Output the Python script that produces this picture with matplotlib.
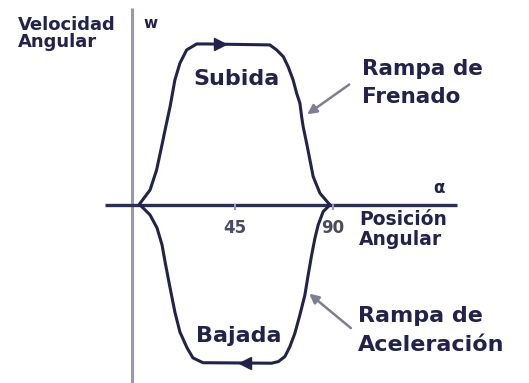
import matplotlib.pyplot as plt

# posición angular (grados) y velocidad angular (normalizada)
subida_x = [1.4, 6.0, 9.0, 11.3, 12.9, 15.2, 17.4, 19.7, 22.8, 27.4, 32.0, 61.0,
            64.1, 67.2, 69.4, 71.7, 73.3, 74.8, 75.6, 76.3, 77.9, 79.4, 80.9,
            84.0, 88.6]
subida_y = [0.01, 0.093, 0.217, 0.362, 0.466, 0.611, 0.776, 0.88, 0.963, 1.0, 1.0,
            0.994, 0.963, 0.921, 0.859, 0.776, 0.694, 0.632, 0.548, 0.486, 0.383,
            0.28, 0.176, 0.073, 0.0]

bajada_x = [1.4, 6.0, 9.2, 11.5, 12.9, 15.2, 17.4, 19.7, 23.0, 25.7, 30.3, 61.8,
            64.9, 67.9, 70.2, 72.5, 74.8, 77.1, 78.6, 80.2, 81.7, 83.2, 85.5, 88.6]
bajada_y = [0.0, -0.062, -0.143, -0.248, -0.354, -0.516, -0.665, -0.789, -0.888,
            -0.95, -0.98, -0.983, -0.973, -0.942, -0.88, -0.797, -0.683, -0.559,
            -0.435, -0.311, -0.207, -0.124, -0.041, 0.0]

ticks = [45, 90]
tick_labels = ["45", "90"]

navy = "#22224a"
gris = "#9a99aa"

fig = plt.figure(figsize=(5.29, 3.83), dpi=100)
ax = fig.add_axes([0, 0, 1, 1])
ax.set_xlim(-62.9, 180.0)
ax.set_ylim(-1.106, 1.273)
ax.axis("off")

# ejes
ax.plot([-2.3, -2.3], [-1.106, 1.224], color=gris, lw=2.2, solid_capstyle="butt")
ax.plot([-14.7, 146.9], [0, 0], color="#2e2e50", lw=2.4, solid_capstyle="butt")
for t in ticks:
    ax.plot([t, t], [0, -0.025], color=gris, lw=1.5)

# curvas
ax.plot(subida_x, subida_y, color=navy, lw=2.2, solid_joinstyle="round")
ax.plot(bajada_x, bajada_y, color=navy, lw=2.2, solid_joinstyle="round")
ax.plot([38.0], [1.0], marker=">", color=navy, markersize=9)
ax.plot([49.6], [-0.983], marker="<", color=navy, markersize=9)

fuente = dict(color=navy, fontweight="bold", family="DejaVu Sans")

ax.text(-54.6, 1.087, "Velocidad", fontsize=13, **fuente)
ax.text(-54.6, 0.981, "Angular", fontsize=13, **fuente)
ax.text(2.75, 1.099, "w", fontsize=11, **fuente)
ax.text(45.7, 0.745, "Subida", fontsize=16, ha="center", **fuente)
ax.text(46.8, -0.851, "Bajada", fontsize=16, ha="center", **fuente)
ax.text(103.3, 0.807, "Rampa de", fontsize=15.5, **fuente)
ax.text(103.3, 0.634, "Frenado", fontsize=15.5, **fuente)
ax.text(135.9, 0.075, "α", fontsize=12, **fuente)
ax.text(101.9, -0.124, "Posición", fontsize=13.5, **fuente)
ax.text(101.9, -0.248, "Angular", fontsize=13.5, **fuente)
ax.text(101.4, -0.727, "Rampa de", fontsize=16, **fuente)
ax.text(101.4, -0.907, "Aceleración", fontsize=16, **fuente)
for t, lab in zip(ticks, tick_labels):
    ax.text(t, -0.174, lab, fontsize=12, ha="center", color="#4a4a60",
            fontweight="bold")

# flechas indicadoras
flecha = dict(arrowstyle="-|>", color="#7e7e92", lw=1.8, mutation_scale=14)
ax.annotate("", xy=(77.1, 0.553), xytext=(98.5, 0.758), arrowprops=flecha)
ax.annotate("", xy=(78.1, -0.540), xytext=(99.2, -0.776), arrowprops=flecha)

plt.savefig("out.png", dpi=100)
